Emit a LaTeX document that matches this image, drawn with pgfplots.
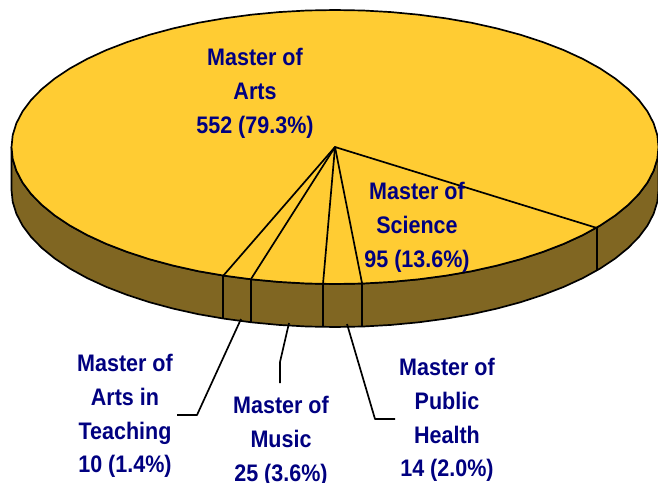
\documentclass[border=0pt]{standalone}
\usepackage{pgfplots}
\pgfplotsset{compat=1.18}
\usepackage{fontspec}
\setmainfont{Liberation Sans}
\newfontfamily\labfont[FakeStretch=0.9]{Liberation Sans}
\definecolor{piegold}{HTML}{FFCC33}
\definecolor{pieside}{HTML}{806622}
\definecolor{labelblue}{HTML}{000080}
\tikzset{lab/.style={text=labelblue,align=center,inner sep=0pt,
  font=\fontsize{24}{34}\selectfont\labfont\bfseries}}
\begin{document}
\begin{tikzpicture}
\useasboundingbox (0,0) rectangle (658bp,483bp);
\begin{axis}[
    at={(0,0)},anchor=south west,
    scale only axis,
    width=658bp,height=483bp,
    xmin=0,xmax=658,ymin=0,ymax=483,
    y dir=reverse,
    hide axis,
    clip=false,
    every axis plot/.append style={line join=round}
]
% side wall
\addplot[fill=pieside,draw=black,line width=1.7pt] coordinates {
(11.5,147)(12.7,158.9)(16.4,170.8)(22.5,182.5)(31,193.9)(41.8,204.9)(54.8,215.5)(70,225.6)(87.2,235.1)(106.3,243.9)(127.1,251.9)(149.4,259.2)(173.2,265.6)(198.3,271.2)(224.4,275.7)(251.3,279.3)(278.8,281.9)(306.8,283.5)(335,284)(363.2,283.5)(391.2,281.9)(418.7,279.3)(445.6,275.7)(471.7,271.2)(496.8,265.6)(520.6,259.2)(542.9,251.9)(563.7,243.9)(582.8,235.1)(600,225.6)(615.2,215.5)(628.2,204.9)(639,193.9)(647.5,182.5)(653.6,170.8)(657.3,158.9)(658.5,147)
(658.5,190)(657.3,201.9)(653.6,213.8)(647.5,225.5)(639,236.9)(628.2,247.9)(615.2,258.5)(600,268.6)(582.8,278.1)(563.7,286.9)(542.9,294.9)(520.6,302.2)(496.8,308.6)(471.7,314.2)(445.6,318.7)(418.7,322.3)(391.2,324.9)(363.2,326.5)(335,327)(306.8,326.5)(278.8,324.9)(251.3,322.3)(224.4,318.7)(198.3,314.2)(173.2,308.6)(149.4,302.2)(127.1,294.9)(106.3,286.9)(87.2,278.1)(70,268.6)(54.8,258.5)(41.8,247.9)(31,236.9)(22.5,225.5)(16.4,213.8)(12.7,201.9)(11.5,190)(11.5,147)
};
% top face
\addplot[fill=piegold,draw=black,line width=1.7pt] coordinates {
(658.5,147)(657.3,135.1)(653.6,123.2)(647.5,111.5)(639,100.1)(628.2,89.1)(615.2,78.5)(600,68.4)(582.8,58.9)(563.7,50.1)(542.9,42.1)(520.6,34.8)(496.8,28.4)(471.7,22.8)(445.6,18.3)(418.7,14.7)(391.2,12.1)(363.2,10.5)(335,10)(306.8,10.5)(278.8,12.1)(251.3,14.7)(224.4,18.3)(198.3,22.8)(173.2,28.4)(149.4,34.8)(127.1,42.1)(106.3,50.1)(87.2,58.9)(70,68.4)(54.8,78.5)(41.8,89.1)(31,100.1)(22.5,111.5)(16.4,123.2)(12.7,135.1)(11.5,147)
(12.7,158.9)(16.4,170.8)(22.5,182.5)(31,193.9)(41.8,204.9)(54.8,215.5)(70,225.6)(87.2,235.1)(106.3,243.9)(127.1,251.9)(149.4,259.2)(173.2,265.6)(198.3,271.2)(224.4,275.7)(251.3,279.3)(278.8,281.9)(306.8,283.5)(335,284)(363.2,283.5)(391.2,281.9)(418.7,279.3)(445.6,275.7)(471.7,271.2)(496.8,265.6)(520.6,259.2)(542.9,251.9)(563.7,243.9)(582.8,235.1)(600,225.6)(615.2,215.5)(628.2,204.9)(639,193.9)(647.5,182.5)(653.6,170.8)(657.3,158.9)(658.5,147)
};
% slice edges, top and wall
\addplot[black,line width=1.7pt] coordinates {(597,228)(335,147)(362,283)};
\addplot[black,line width=1.7pt] coordinates {(323,284)(335,147)(251,279)};
\addplot[black,line width=1.7pt] coordinates {(335,147)(223,276)};
\addplot[black,line width=1.7pt] coordinates {(597,228)(597,271)};
\addplot[black,line width=1.7pt] coordinates {(362,283)(362,326)};
\addplot[black,line width=1.7pt] coordinates {(323,284)(323,327)};
\addplot[black,line width=1.7pt] coordinates {(251,279)(251,322)};
\addplot[black,line width=1.7pt] coordinates {(223,276)(223,319)};
% leaders
\addplot[black,line width=1.7pt] coordinates {(241,319)(197,415)(177,415)};
\addplot[black,line width=1.7pt] coordinates {(289,323)(280,362)(280,383)};
\addplot[black,line width=1.7pt] coordinates {(347,324)(375,419)(395,419)};
% labels
\node[lab] at (axis cs:255,93) {Master of\\Arts\\552 (79.3\%)};
\node[lab] at (axis cs:417,227) {Master of\\Science\\95 (13.6\%)};
\node[lab] at (axis cs:125,416) {Master of\\Arts in\\Teaching\\10 (1.4\%)};
\node[lab] at (axis cs:281,441) {Master of\\Music\\25 (3.6\%)};
\node[lab] at (axis cs:447,420) {Master of\\Public\\Health\\14 (2.0\%)};
\end{axis}
\end{tikzpicture}
\end{document}
